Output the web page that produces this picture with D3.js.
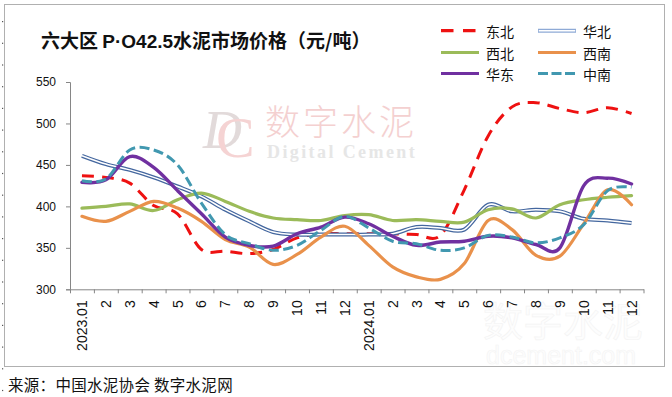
<!DOCTYPE html>
<html><head><meta charset="utf-8">
<script src="https://cdn.jsdelivr.net/npm/d3@7/dist/d3.min.js"></script>
<style>html,body{margin:0;padding:0;background:#fff}svg{display:block}</style>
</head><body>
<svg id="chart" width="672" height="397"></svg>
<script>
// ---------- data ----------
const categories = ["2023.01","2","3","4","5","6","7","8","9","10","11","12",
                    "2024.01","2","3","4","5","6","7","8","9","10","11","12"];
const seriesNames = ["东北","华北","西北","西南","华东","中南"];
const dongbei = [437,435,428,401,391,348,346,343,348,362,367,367,367,367,366,365,420,485,520,525,518,513,519,512];
const huabei  = [461,451,444,435,424,412,396,382,369,366,366,366,366,367,375,374,372,402,394,396,394,385,383,380];
const xibei   = [398,400,403,395,408,416,406,394,386,384,383,389,390,383,384,382,381,396,397,386,402,408,411,413];
const xinan   = [388,382,394,406,398,382,360,351,330,342,363,376,353,327,315,312,331,383,372,341,340,379,420,402];
const huadong = [429,432,460,447,419,391,363,353,352,367,375,387,379,364,353,357,358,364,362,354,350,425,434,427];
const zhongnan= [431,433,468,468,450,404,366,355,347,353,371,388,374,358,355,347,350,365,363,356,362,378,419,423];
const yTicks  = [300,350,400,450,500,550];
const titleParts = [["六大区 ","cjk"],["P·O42.5","latin"],["水泥市场价格（元/吨）","cjk"]];
const sourceText = "来源：中国水泥协会 数字水泥网";

const seriesValues = [dongbei, huabei, xibei, xinan, huadong, zhongnan];

// ---------- styles ----------
const styles = {
  "东北": {color:"#ee1111", width:3, dash:"12,8", legendDash:"12.5,9.5"},
  "华北": {color:"#44679f", width:4, double:true},
  "西北": {color:"#9bbb59", width:3.2},
  "西南": {color:"#e9914b", width:3.2},
  "华东": {color:"#7030a0", width:3.4},
  "中南": {color:"#4198b0", width:3, dash:"10,4.5", legendDash:"10,3.5"}
};

const svg = d3.select("#chart");
const plot = {left:70, right:643.5, top:82, bottom:289.3};

// outer frame
svg.append("rect").attr("x",4.5).attr("y",4.5).attr("width",660).attr("height",362)
  .attr("fill","#fff").attr("stroke","#b0b0b0").attr("stroke-width",1);

// small ruler dots on far left
svg.append("g").selectAll("rect").data(d3.range(21, 397, 21.7)).join("rect")
  .attr("x",2).attr("y",d=>d).attr("width",1.2).attr("height",1.2).attr("fill","#555");

// faint bottom-right ghost watermark
svg.append("text").attr("x",483).attr("y",336).text("数字水泥")
  .attr("font-family","Noto Sans CJK SC").attr("font-size",40)
  .attr("fill","#fdfdfd").attr("stroke","#f3f3f3").attr("stroke-width",0.6);
svg.append("text").attr("x",486).attr("y",364).text("dcement.com")
  .attr("font-family","Liberation Sans").attr("font-size",25)
  .attr("fill","#fdfdfd").attr("stroke","#f4f4f4").attr("stroke-width",0.6);

// central watermark
svg.append("text").attr("x",203).attr("y",148).text("D")
  .attr("font-family","Liberation Serif").attr("font-style","italic").attr("font-size",54)
  .attr("fill","#e2dada");
svg.append("text").attr("x",216).attr("y",157).text("C")
  .attr("font-family","Liberation Serif").attr("font-size",58)
  .attr("fill","#f5d3d3");
svg.append("text").attr("x",265).attr("y",135).text("数字水泥")
  .attr("font-family","Noto Sans CJK SC").attr("font-weight",300).attr("font-size",35)
  .attr("letter-spacing",3).attr("fill","#f4d0d0");
svg.append("text").attr("x",267).attr("y",158).text("Digital Cement")
  .attr("font-family","Liberation Serif").attr("font-weight","bold").attr("font-size",18)
  .attr("letter-spacing",2.4).attr("fill","#e6e6e6");

// ---------- scales ----------
const x = d3.scaleBand().domain(d3.range(categories.length)).range([plot.left, plot.right]).padding(0);
const xb = d3.scaleLinear().domain([0, categories.length]).range([plot.left, plot.right]);
const y = d3.scaleLinear().domain([300,550]).range([plot.bottom, plot.top]);
const bw = x.bandwidth();

// ---------- axes ----------
const axisColor = "#868686";
const yAxis = svg.append("g").attr("transform",`translate(${plot.left},0)`)
  .call(d3.axisLeft(y).tickValues(yTicks).tickSize(4).tickPadding(10).tickFormat(d3.format("d")));
yAxis.select(".domain").attr("stroke",axisColor);
yAxis.selectAll(".tick line").attr("stroke",axisColor);
yAxis.selectAll("text").attr("font-family","Liberation Sans, Arial, sans-serif").attr("font-size",12).attr("fill","#111");

const xTicks = svg.append("g").attr("transform",`translate(0,${plot.bottom})`)
  .call(d3.axisBottom(xb).tickValues(d3.range(categories.length+1)).tickSize(4).tickSizeOuter(0).tickFormat(""));
xTicks.select(".domain").attr("stroke",axisColor);
xTicks.selectAll(".tick line").attr("stroke",axisColor);

const xLabels = svg.append("g").attr("transform",`translate(0,${plot.bottom})`)
  .call(d3.axisBottom(x).tickSize(0).tickFormat(i=>categories[i]));
xLabels.select(".domain").remove();
xLabels.selectAll("text")
  .attr("transform","rotate(-90)").attr("x",-11).attr("y",0).attr("dy","0.36em")
  .attr("text-anchor","end")
  .attr("font-family","Liberation Sans, Arial, sans-serif").attr("font-size",14).attr("fill","#111");

// ---------- lines ----------
const line = d3.line()
  .x((d,i)=>x(i)+bw/2)
  .y(d=>y(d))
  .curve(d3.curveCatmullRom.alpha(0));

const gLines = svg.append("g");
seriesNames.forEach((name, k)=>{
  const st = styles[name];
  const vals = seriesValues[k];
  if (st.double) {
    gLines.append("path").attr("d",line(vals)).attr("fill","none")
      .attr("stroke",st.color).attr("stroke-width",st.width).attr("stroke-linejoin","round");
    gLines.append("path").attr("d",line(vals)).attr("fill","none")
      .attr("stroke","#fff").attr("stroke-width",1.5).attr("stroke-linejoin","round");
  } else {
    gLines.append("path").attr("d",line(vals)).attr("fill","none")
      .attr("stroke",st.color).attr("stroke-width",st.width)
      .attr("stroke-dasharray",st.dash||null)
      .attr("stroke-linejoin","round").attr("stroke-linecap", st.dash? "butt":"round");
  }
});

// ---------- title ----------
const title = svg.append("text").attr("x",41).attr("y",48)
  .attr("font-weight",700).attr("font-size",19).attr("fill","#111");
titleParts.forEach(([t,kind])=>{
  title.append("tspan").text(t)
    .attr("font-family", kind==="latin" ? "Liberation Sans, Arial, sans-serif" : "Noto Sans CJK SC");
});

// ---------- legend ----------
const legendCols = [{lx:441, tx:486},{lx:538, tx:583}];
const legendRows = [30.7, 52.5, 73.5];
const leg = svg.append("g");
seriesNames.forEach((name,k)=>{
  const st = styles[name];
  const c = legendCols[k%2], ry = legendRows[Math.floor(k/2)];
  if (st.double) {
    leg.append("line").attr("x1",c.lx).attr("x2",c.lx+38).attr("y1",ry).attr("y2",ry)
      .attr("stroke","#8eaad6").attr("stroke-width",4);
    leg.append("line").attr("x1",c.lx+0.8).attr("x2",c.lx+37.2).attr("y1",ry).attr("y2",ry)
      .attr("stroke","#fff").attr("stroke-width",1.6);
  } else {
    leg.append("line").attr("x1",c.lx).attr("x2",c.lx+38).attr("y1",ry).attr("y2",ry)
      .attr("stroke",st.color).attr("stroke-width",3.2)
      .attr("stroke-dasharray",st.legendDash||null);
  }
  leg.append("text").attr("x",c.tx).attr("y",ry).attr("dominant-baseline","central")
    .text(name).attr("font-family","Noto Sans CJK SC").attr("font-size",14).attr("fill","#111");
});

// ---------- source ----------
svg.append("text").attr("x",8).attr("y",384).attr("dominant-baseline","central").text(sourceText)
  .attr("font-family","Noto Sans CJK SC").attr("font-size",15.5).attr("letter-spacing",0.3).attr("fill","#111");
</script>
</body></html>
